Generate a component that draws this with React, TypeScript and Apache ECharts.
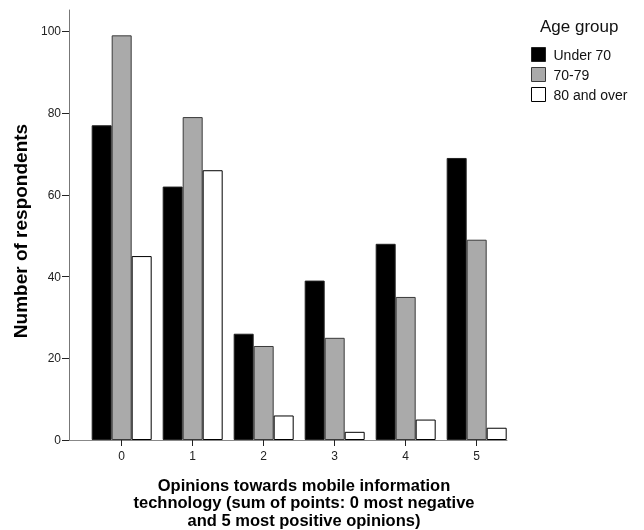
import React, { useEffect, useRef } from "react";
import * as echarts from "echarts";

const categories = [0, 1, 2, 3, 4, 5];
const under70 = [77, 62, 26, 39, 48, 69];
const age7079 = [99, 79, 23, 25, 35, 49];
const over80 = [45, 66, 6, 2, 5, 3];
const yTicks = [0, 20, 40, 60, 80, 100];
const seriesNames = ["Under 70", "70-79", "80 and over"];

const FONT = "'Liberation Sans', Arial, sans-serif";

export default function App() {
  const ref = useRef<HTMLDivElement>(null);
  useEffect(() => {
    if (!ref.current) return;
    const chart = echarts.init(ref.current, undefined, { renderer: "svg" });
    const toPairs = (arr: number[]) => categories.map((c, i) => [c, arr[i]]);
    const styles = [
      { color: "#000000", borderColor: "#222222", borderWidth: 1 },
      { color: "#aaaaaa", borderColor: "#3a3a3a", borderWidth: 1 },
      { color: "#ffffff", borderColor: "#000000", borderWidth: 1 },
    ];
    const datas = [under70, age7079, over80];
    chart.setOption({
      animation: false,
      textStyle: { fontFamily: FONT },
      grid: { left: 69, right: 137, top: 10, bottom: 90, containLabel: false },
      xAxis: {
        type: "value",
        min: -0.742,
        max: 5.427,
        splitLine: { show: false },
        axisLine: { show: true, onZero: false, lineStyle: { color: "#888888", width: 1 } },
        axisTick: {
          show: true,
          length: 6,
          customValues: categories,
          lineStyle: { color: "#222222" },
        },
        axisLabel: {
          customValues: categories,
          color: "#222222",
          fontSize: 12,
          fontFamily: FONT,
          margin: 10,
          formatter: (v: number) => String(Math.round(v)),
        },
      },
      yAxis: {
        type: "value",
        min: 0,
        max: 105.2,
        splitLine: { show: false },
        axisLine: { show: true, onZero: false, lineStyle: { color: "#777777", width: 1 } },
        axisTick: {
          show: true,
          length: 7,
          customValues: yTicks,
          lineStyle: { color: "#222222" },
        },
        axisLabel: {
          customValues: yTicks,
          color: "#222222",
          fontSize: 12,
          fontFamily: FONT,
          margin: 8,
        },
      },
      legend: {
        orient: "vertical",
        left: 531,
        top: 47,
        padding: 0,
        itemWidth: 14,
        itemHeight: 14,
        itemGap: 5,
        icon: "rect",
        textStyle: { fontSize: 14, color: "#111111", fontFamily: FONT, padding: [0, 0, 0, 3] },
        data: seriesNames.map((n, i) => ({ name: n, itemStyle: styles[i] })),
      },
      graphic: [
        {
          type: "text",
          left: 540,
          top: 18,
          style: { text: "Age group", font: `17px ${FONT}`, fill: "#111111" },
        },
        {
          type: "text",
          x: 304,
          y: 476,
          style: {
            text:
              "Opinions towards mobile information\ntechnology (sum of points: 0 most negative\nand 5 most positive opinions)",
            font: `bold 16.5px ${FONT}`,
            fill: "#000000",
            align: "center",
            verticalAlign: "top",
            lineHeight: 17.5,
          },
        },
        {
          type: "text",
          x: 20,
          y: 231,
          rotation: Math.PI / 2,
          style: {
            text: "Number of respondents",
            font: `bold 19px ${FONT}`,
            fill: "#000000",
            align: "center",
            verticalAlign: "middle",
          },
        },
      ],
      series: seriesNames.map((n, i) => ({
        name: n,
        type: "bar",
        barWidth: 20,
        barGap: "0%",
        itemStyle: styles[i],
        data: toPairs(datas[i]),
      })),
    });
    return () => chart.dispose();
  }, []);
  return (
    <div
      ref={ref}
      style={{ position: "fixed", left: 0, top: 0, width: 644, height: 530 }}
    />
  );
}
